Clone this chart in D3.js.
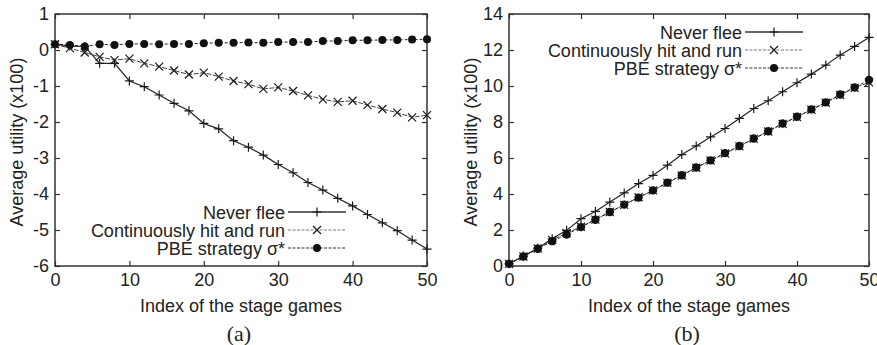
<!DOCTYPE html>
<html>
<head>
<meta charset="utf-8">
<script src="https://cdn.jsdelivr.net/npm/d3@7"></script>
<style>
  body { margin: 0; background: #fff; }
  svg text { font-family: "Liberation Sans", Arial, sans-serif; fill: #222; }
</style>
</head>
<body>
<div id="chart"></div>
<script>
// stage game index (x), sampled every 2 games
const stageIndex = [0, 2, 4, 6, 8, 10, 12, 14, 16, 18, 20, 22, 24, 26, 28, 30, 32, 34, 36, 38, 40, 42, 44, 46, 48, 50];
const xTicks = [0, 10, 20, 30, 40, 50];
const seriesNames = ['Never flee', 'Continuously hit and run', 'PBE strategy \u03c3*'];

// panel (a)
const neverFleeA = [0.16, 0.11, 0.10, -0.37, -0.37, -0.86, -1.02, -1.25, -1.48, -1.69, -2.04, -2.19, -2.52, -2.70, -2.92, -3.18, -3.41, -3.68, -3.89, -4.12, -4.33, -4.57, -4.80, -5.02, -5.28, -5.53];
const hitRunA = [0.16, 0.05, -0.07, -0.19, -0.28, -0.24, -0.37, -0.46, -0.57, -0.68, -0.63, -0.74, -0.86, -0.95, -1.08, -1.04, -1.14, -1.26, -1.37, -1.44, -1.41, -1.53, -1.64, -1.74, -1.87, -1.81];
const pbeA = [0.16, 0.14, 0.10, 0.16, 0.14, 0.17, 0.17, 0.16, 0.17, 0.17, 0.19, 0.20, 0.20, 0.21, 0.20, 0.22, 0.22, 0.22, 0.25, 0.25, 0.27, 0.27, 0.28, 0.28, 0.29, 0.30];
const yTicksA = [1, 0, -1, -2, -3, -4, -5, -6];

// panel (b)
const neverFleeB = [0.12, 0.55, 0.99, 1.51, 1.98, 2.63, 3.03, 3.55, 4.06, 4.58, 5.04, 5.60, 6.19, 6.67, 7.17, 7.64, 8.20, 8.75, 9.18, 9.68, 10.18, 10.66, 11.16, 11.72, 12.20, 12.70];
const hitRunB = [0.12, 0.53, 0.97, 1.45, 1.82, 2.18, 2.58, 3.00, 3.40, 3.82, 4.20, 4.62, 5.03, 5.46, 5.86, 6.25, 6.65, 7.06, 7.47, 7.90, 8.27, 8.68, 9.07, 9.50, 9.90, 10.20];
const pbeB = [0.12, 0.53, 0.96, 1.38, 1.75, 2.16, 2.57, 3.00, 3.41, 3.80, 4.20, 4.63, 5.04, 5.47, 5.87, 6.27, 6.67, 7.08, 7.49, 7.92, 8.29, 8.70, 9.09, 9.53, 9.92, 10.33];
const yTicksB = [0, 2, 4, 6, 8, 10, 12, 14];

const W = 877, H = 345;
const svg = d3.select('#chart').append('svg')
  .attr('width', W)
  .attr('height', H);

const lineStyles = [
  { stroke: '#222', dash: null, width: 1.2, marker: 'plus' },
  { stroke: '#444', dash: '5,1.5', width: 1, marker: 'cross' },
  { stroke: '#222', dash: '3,2', width: 1, marker: 'dot' }
];

const fmt = d => String(d); // plain hyphen minus, like the original

function drawMarker(g, type, x, y, r) {
  if (type === 'plus') {
    g.append('path')
      .attr('d', `M${x - 4.5},${y}H${x + 4.5}M${x},${y - 4.5}V${y + 4.5}`)
      .attr('stroke', '#1a1a1a').attr('stroke-width', 1.2);
  } else if (type === 'cross') {
    g.append('path')
      .attr('d', `M${x - 4},${y - 4}L${x + 4},${y + 4}M${x - 4},${y + 4}L${x + 4},${y - 4}`)
      .attr('stroke', '#1a1a1a').attr('stroke-width', 1.2);
  } else {
    g.append('circle')
      .attr('cx', x).attr('cy', y).attr('r', r)
      .attr('fill', '#111');
  }
}

function drawPanel(p) {
  const x = d3.scaleLinear().domain([0, 50]).range([p.left, p.right]);
  const y = d3.scaleLinear().domain(p.yDomain).range([266, 14]);
  const g = svg.append('g');

  // bottom axis with labels, ticks pointing inward
  g.append('g')
    .attr('transform', 'translate(0,266)')
    .call(d3.axisBottom(x).tickValues(xTicks).tickFormat(fmt).tickSizeInner(-5).tickSizeOuter(0).tickPadding(7))
    .call(a => a.select('.domain').remove())
    .call(a => a.selectAll('text').style('font-size', '18px').attr('fill', '#222'));
  // top mirror ticks
  g.append('g')
    .attr('transform', 'translate(0,14)')
    .call(d3.axisTop(x).tickValues(xTicks).tickSizeInner(-5).tickSizeOuter(0).tickFormat(''))
    .call(a => a.select('.domain').remove());
  // left axis
  g.append('g')
    .attr('transform', `translate(${p.left},0)`)
    .call(d3.axisLeft(y).tickValues(p.yTicks).tickFormat(fmt).tickSizeInner(-5).tickSizeOuter(0).tickPadding(6))
    .call(a => a.select('.domain').remove())
    .call(a => a.selectAll('text').style('font-size', '18px').attr('fill', '#222'));
  // right mirror ticks
  g.append('g')
    .attr('transform', `translate(${p.right},0)`)
    .call(d3.axisRight(y).tickValues(p.yTicks).tickSizeInner(-5).tickSizeOuter(0).tickFormat(''))
    .call(a => a.select('.domain').remove());
  g.selectAll('.tick line').attr('stroke', '#333').attr('stroke-width', 1.2);

  // frame
  g.append('rect')
    .attr('x', p.left).attr('y', 14)
    .attr('width', p.right - p.left).attr('height', 252)
    .attr('fill', 'none').attr('stroke', '#333').attr('stroke-width', 1.5);

  // series
  p.series.forEach((vals, i) => {
    const st = lineStyles[i];
    const line = d3.line().x((d, j) => x(stageIndex[j])).y(d => y(d));
    g.append('path')
      .datum(vals)
      .attr('d', line)
      .attr('fill', 'none')
      .attr('stroke', st.stroke)
      .attr('stroke-width', st.width)
      .attr('stroke-dasharray', st.dash);
    vals.forEach((v, j) => drawMarker(g, st.marker, x(stageIndex[j]), y(v), p.dotR));
  });

  // legend
  const lg = g.append('g');
  seriesNames.forEach((name, i) => {
    const st = lineStyles[i];
    const ly = p.legendY + i * 18;
    lg.append('text')
      .attr('x', p.legendX).attr('y', ly + 6.5)
      .attr('text-anchor', 'end')
      .style('font-size', '18px')
      .text(name);
    lg.append('line')
      .attr('x1', p.legendX + 3).attr('x2', p.legendX + 61)
      .attr('y1', ly).attr('y2', ly)
      .attr('stroke', i === 1 ? '#777' : '#333')
      .attr('stroke-width', i === 0 ? 1.5 : 1)
      .attr('stroke-dasharray', i === 0 ? null : '3,1.5');
    drawMarker(lg, st.marker, p.legendX + 32, ly, 4);
  });

  // axis titles
  g.append('text')
    .attr('transform', `translate(${p.left - 32},142) rotate(-90)`)
    .attr('text-anchor', 'middle')
    .style('font-size', '18px')
    .text('Average utility (x100)');
  g.append('text')
    .attr('x', (p.left + p.right) / 2).attr('y', 312)
    .attr('text-anchor', 'middle')
    .style('font-size', '18px')
    .text('Index of the stage games');
  g.append('text')
    .attr('x', (p.left + p.right) / 2 - 2).attr('y', 341)
    .attr('text-anchor', 'middle')
    .style('font-family', '"Liberation Serif", "Times New Roman", serif')
    .style('font-size', '22px')
    .text(p.caption);
}

drawPanel({
  left: 55, right: 427, yDomain: [-6, 1], yTicks: yTicksA,
  series: [neverFleeA, hitRunA, pbeA], dotR: 4,
  legendX: 285, legendY: 212, caption: '(a)'
});
drawPanel({
  left: 509, right: 869, yDomain: [0, 14], yTicks: yTicksB,
  series: [neverFleeB, hitRunB, pbeB], dotR: 4.2,
  legendX: 742, legendY: 32, caption: '(b)'
});
</script>
</body>
</html>
